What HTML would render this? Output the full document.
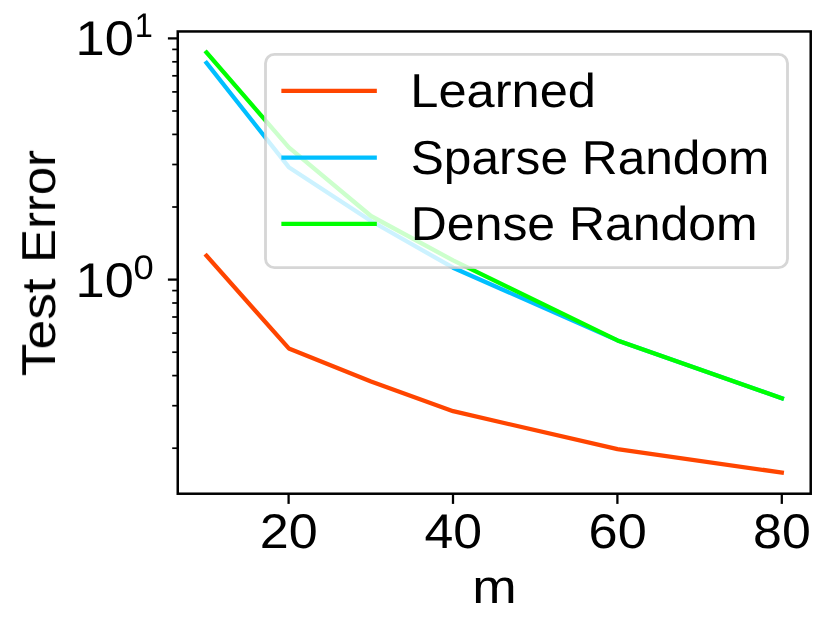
<!DOCTYPE html>
<html lang="en">
<head>
<meta charset="utf-8">
<title>Test Error vs m</title>
<style>
html,body{margin:0;padding:0;background:#fff;}
body{width:831px;height:633px;overflow:hidden;font-family:"Liberation Sans",sans-serif;}
svg{display:block;}
svg text{font-family:"Liberation Sans",sans-serif;fill:#000;will-change:opacity;text-rendering:geometricPrecision;}
</style>
</head>
<body>
<svg width="831" height="633" viewBox="0 0 831 633">
<rect x="0" y="0" width="831" height="633" fill="#ffffff"/>
<!-- data lines -->
<g>
<polyline points="206.5,255.7 288.8,348.4 371.0,381.6 453.1,411.2 617.5,449.2 781.8,472.6" fill="none" stroke="#ff4500" stroke-width="4.28" stroke-linecap="square" stroke-linejoin="round"/>
<polyline points="206.5,62.9 288.8,167.2 371.0,221.0 453.1,267.7 617.5,340.4 781.9,398.2" fill="none" stroke="#00bfff" stroke-width="4.28" stroke-linecap="square" stroke-linejoin="round"/>
<polyline points="206.5,52.4 288.8,147.4 371.0,216.0 453.1,260.4 617.5,340.4 781.9,398.2" fill="none" stroke="#00ff00" stroke-width="4.28" stroke-linecap="square" stroke-linejoin="round"/>
</g>
<!-- ticks -->
<g stroke="#000" stroke-width="2.28" fill="none">
<line x1="288.6" y1="493.9" x2="288.6" y2="503.9"/>
<line x1="453.0" y1="493.9" x2="453.0" y2="503.9"/>
<line x1="617.4" y1="493.9" x2="617.4" y2="503.9"/>
<line x1="781.8" y1="493.9" x2="781.8" y2="503.9"/>
<line x1="167.9" y1="38.4" x2="177.9" y2="38.4"/>
<line x1="167.9" y1="279.6" x2="177.9" y2="279.6"/>
</g>
<g stroke="#000" stroke-width="1.71" fill="none">
<line x1="172.2" y1="207.0" x2="177.9" y2="207.0"/>
<line x1="172.2" y1="164.5" x2="177.9" y2="164.5"/>
<line x1="172.2" y1="134.4" x2="177.9" y2="134.4"/>
<line x1="172.2" y1="111.0" x2="177.9" y2="111.0"/>
<line x1="172.2" y1="91.9" x2="177.9" y2="91.9"/>
<line x1="172.2" y1="75.8" x2="177.9" y2="75.8"/>
<line x1="172.2" y1="61.8" x2="177.9" y2="61.8"/>
<line x1="172.2" y1="49.4" x2="177.9" y2="49.4"/>
<line x1="172.2" y1="448.2" x2="177.9" y2="448.2"/>
<line x1="172.2" y1="405.7" x2="177.9" y2="405.7"/>
<line x1="172.2" y1="375.6" x2="177.9" y2="375.6"/>
<line x1="172.2" y1="352.2" x2="177.9" y2="352.2"/>
<line x1="172.2" y1="333.1" x2="177.9" y2="333.1"/>
<line x1="172.2" y1="317.0" x2="177.9" y2="317.0"/>
<line x1="172.2" y1="303.0" x2="177.9" y2="303.0"/>
<line x1="172.2" y1="290.6" x2="177.9" y2="290.6"/>
</g>
<!-- axes frame -->
<rect x="177.75" y="31.45" width="632.97" height="462.27" fill="none" stroke="#000" stroke-width="2.5"/>
<!-- legend -->
<rect x="265.5" y="54.4" width="522.0" height="213.2" rx="8.9" ry="8.9" fill="#ffffff" fill-opacity="0.8" stroke="#cccccc" stroke-opacity="0.8" stroke-width="2.85"/>
<line x1="283.5" y1="90.9" x2="374.7" y2="90.9" stroke="#ff4500" stroke-width="4.28" stroke-linecap="square"/>
<line x1="283.5" y1="157.6" x2="374.7" y2="157.6" stroke="#00bfff" stroke-width="4.28" stroke-linecap="square"/>
<line x1="283.5" y1="223.9" x2="374.7" y2="223.9" stroke="#00ff00" stroke-width="4.28" stroke-linecap="square"/>
<text transform="translate(410.30 106.90) scale(1.0625 1.0000)" font-size="47.60">Learned</text>
<text transform="translate(410.69 173.60) scale(1.0431 1.0000)" font-size="47.60">Sparse Random</text>
<text transform="translate(410.82 239.80) scale(1.0488 1.0000)" font-size="47.60">Dense Random</text>
<!-- tick labels -->
<text transform="translate(259.77 548.00) scale(1.0727 1.0000)" font-size="48.60">20</text>
<text transform="translate(424.46 548.00) scale(1.0657 1.0000)" font-size="48.60">40</text>
<text transform="translate(588.60 548.00) scale(1.0758 1.0000)" font-size="48.60">60</text>
<text transform="translate(753.04 548.00) scale(1.0672 1.0000)" font-size="48.60">80</text>
<text transform="translate(75.52 54.90) scale(1.0786 1.0000)" font-size="48.60">10</text>
<text transform="translate(134.72 37.00) scale(0.9568 1.0000)" font-size="34.00">1</text>
<text transform="translate(75.52 296.50) scale(1.0786 1.0000)" font-size="48.60">10</text>
<text transform="translate(133.53 278.50) scale(1.0695 1.0000)" font-size="34.00">0</text>
<!-- axis labels -->
<text transform="translate(472.16 602.80) scale(1.1226 1.0000)" font-size="47.50">m</text>
<g>
<text transform="translate(55.00 376.25) rotate(-90) scale(1.1219 1.0000)" font-size="47.60">Test </text>
<text transform="translate(55.00 262.87) rotate(-90) scale(1.0684 1.0000)" font-size="47.60">Error</text>
</g>
</svg>
</body>
</html>
